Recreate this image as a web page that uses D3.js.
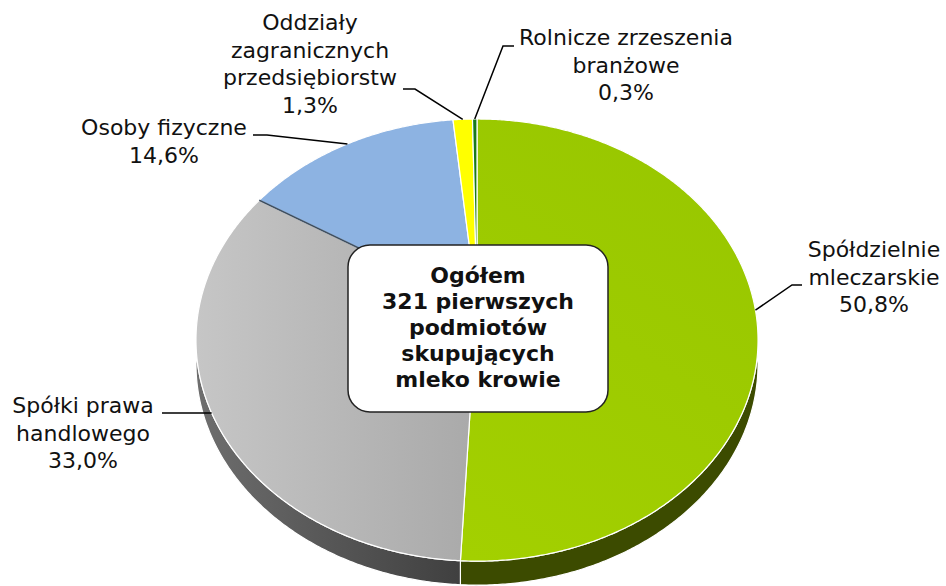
<!DOCTYPE html>
<html>
<head>
<meta charset="utf-8">
<script src="https://cdn.jsdelivr.net/npm/d3@7"></script>
<style>
  body { margin: 0; background: #fff; }
  svg { display: block; }
  text { font-family: "DejaVu Sans", Verdana, sans-serif; fill: #111; }
</style>
</head>
<body>
<svg></svg>
<script>
// data
let categories = ['Spółdzielnie mleczarskie', 'Spółki prawa handlowego', 'Osoby fizyczne',
                  'Oddziały zagranicznych przedsiębiorstw', 'Rolnicze zrzeszenia branżowe']
let shares = [50.8, 33.0, 14.6, 1.3, 0.3]
let labelLines = [['Spółdzielnie', 'mleczarskie'], ['Spółki prawa', 'handlowego'], ['Osoby fizyczne'],
                  ['Oddziały', 'zagranicznych', 'przedsiębiorstw'], ['Rolnicze zrzeszenia', 'branżowe']]
let centerLines = ['Ogółem', '321 pierwszych', 'podmiotów', 'skupujących', 'mleko krowie']

let topColors = ['#9ccb00', '#b4b4b4', '#8db3e2', '#ffff00', '#1a7a1a']
let sideColors = ['#3c4b00', '#4a4a4a', '#4f6a8f', '#8f8f00', '#0d400d']

// layout
let width = 946
let height = 586
let cx = 477, cy = 304.7
let A = 277.4, B = 215.4, k = 0.16
let depth = 24
let lineH = 27.5

// label layout: text centre x, first baseline, leader start, elbow
let labelPos = [
  {x: 874, y: 257, lx: 802, ly: 285, ex: 792},
  {x: 83, y: 413, lx: 162, ly: 413, ex: 172},
  {x: 164, y: 135, lx: 253, ly: 135, ex: 267},
  {x: 310, y: 30, lx: 403, ly: 89, ex: 415},
  {x: 626, y: 45, lx: 514, ly: 46, ex: 503}
]

let fmt = d3.formatLocale({decimal: ',', thousands: ' ', grouping: [3], currency: ['', '']}).format('.1f')

let svg = d3.select('svg').attr('width', width).attr('height', height)
let defs = svg.append('defs')

let grayGrad = defs.append('linearGradient').attr('id', 'grayTop')
  .attr('gradientUnits', 'userSpaceOnUse').attr('x1', 196).attr('x2', 470).attr('y1', 0).attr('y2', 0)
grayGrad.append('stop').attr('offset', 0).attr('stop-color', '#c6c6c6')
grayGrad.append('stop').attr('offset', 1).attr('stop-color', '#aaaaaa')

let greenGrad = defs.append('linearGradient').attr('id', 'greenTop')
  .attr('gradientUnits', 'userSpaceOnUse').attr('x1', 470).attr('x2', 758).attr('y1', 560).attr('y2', 120)
greenGrad.append('stop').attr('offset', 0).attr('stop-color', '#a3d000')
greenGrad.append('stop').attr('offset', 1).attr('stop-color', '#97c600')

let graySide = defs.append('linearGradient').attr('id', 'graySide')
  .attr('gradientUnits', 'userSpaceOnUse').attr('x1', 196).attr('x2', 470).attr('y1', 0).attr('y2', 0)
graySide.append('stop').attr('offset', 0).attr('stop-color', '#6e6e6e')
graySide.append('stop').attr('offset', 1).attr('stop-color', '#3e3e3e')

let topFill = (i) => i === 0 ? 'url(#greenTop)' : i === 1 ? 'url(#grayTop)' : topColors[i]
let sideFill = (i) => i === 1 ? 'url(#graySide)' : sideColors[i]

// perspective projection of a point on the pie disc
let project = (a, r) => {
  let u = r * Math.sin(a), v = r * Math.cos(a)
  let z = 1 + k * v
  return [cx + A * u / z, cy - B * v / z]
}

let rim = (a0, a1) => {
  let n = Math.max(2, Math.ceil((a1 - a0) / 0.008))
  return d3.range(n + 1).map(i => project(a0 + (a1 - a0) * i / n, 1))
}

let pie = d3.pie().sort(null).value(d => d)
let arcs = pie(shares)
let line = d3.line()

// side walls
svg.append('g').selectAll('path')
   .data(arcs)
   .enter()
   .append('path')
   .attr('d', d => {
     let top = rim(d.startAngle, d.endAngle)
     let bottom = top.map(p => [p[0], p[1] + depth]).reverse()
     return line(top.concat(bottom)) + 'Z'
   })
   .attr('fill', (d, i) => sideFill(i))
   .attr('stroke', '#fff')
   .attr('stroke-width', 1.2)

// top faces
svg.append('g').selectAll('path')
   .data(arcs)
   .enter()
   .append('path')
   .attr('d', d => line([[cx, cy]].concat(rim(d.startAngle, d.endAngle))) + 'Z')
   .attr('fill', (d, i) => topFill(i))
   .attr('stroke', '#fff')
   .attr('stroke-width', 1.2)
   .attr('stroke-linejoin', 'round')

// shadow edge under the blue slice
let blueStart = arcs[2].startAngle
svg.append('path')
   .attr('d', line([[cx, cy], project(blueStart, 1)]))
   .attr('stroke', '#3f4f60')
   .attr('stroke-width', 1.6)
   .attr('fill', 'none')

// leader lines
svg.append('g').selectAll('path')
   .data(arcs)
   .enter()
   .append('path')
   .attr('d', (d, i) => {
     let p = labelPos[i]
     let mid = (d.startAngle + d.endAngle) / 2
     return line([[p.lx, p.ly], [p.ex, p.ly], project(mid, 1)])
   })
   .attr('fill', 'none')
   .attr('stroke', '#000')
   .attr('stroke-width', 1.5)

// labels
let labels = svg.append('g').selectAll('text')
   .data(arcs)
   .enter()
   .append('text')
   .attr('text-anchor', 'middle')
   .attr('font-size', 22)

labels.each(function (d, i) {
  let t = d3.select(this)
  let p = labelPos[i]
  let lines = labelLines[i].concat([fmt(shares[i]) + '%'])
  lines.forEach((s, j) => {
    t.append('tspan').attr('x', p.x).attr('y', p.y + j * lineH).text(s)
  })
})

// centre box
svg.append('rect')
   .attr('x', 348).attr('y', 245)
   .attr('width', 260).attr('height', 167)
   .attr('rx', 22).attr('ry', 22)
   .attr('fill', '#fff')
   .attr('stroke', '#222')
   .attr('stroke-width', 1.5)

let ct = svg.append('text')
   .attr('text-anchor', 'middle')
   .attr('font-size', 22)
   .attr('font-weight', 'bold')
centerLines.forEach((s, j) => {
  ct.append('tspan').attr('x', 478).attr('y', 283 + j * 26).text(s)
})
</script>
</body>
</html>
